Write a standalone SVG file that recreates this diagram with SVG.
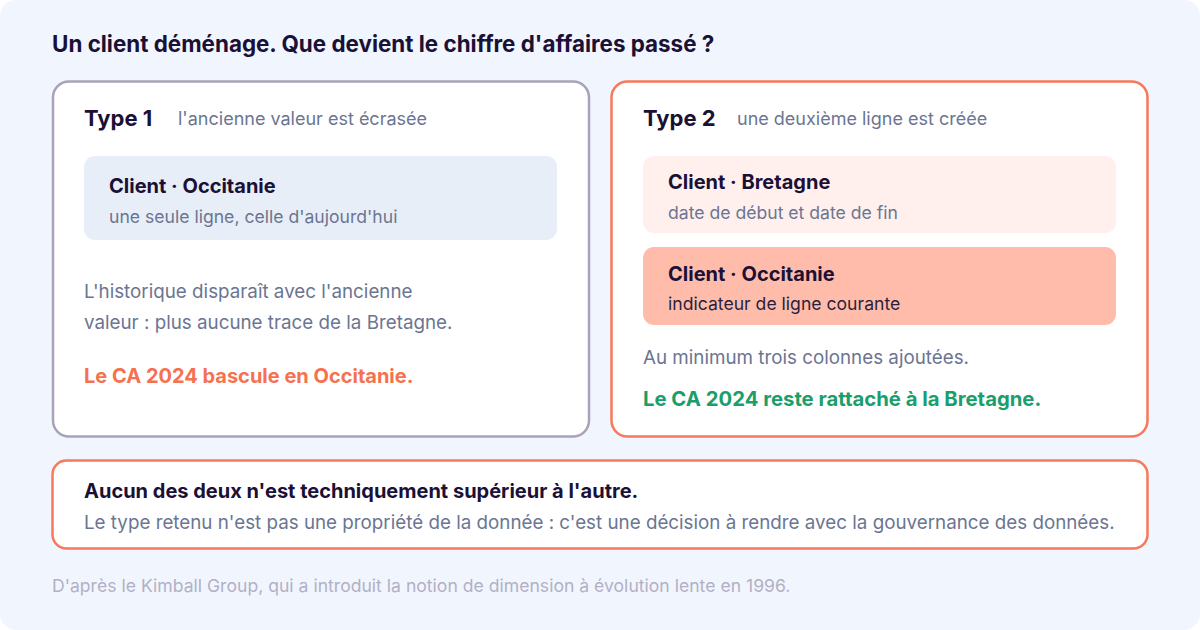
<svg xmlns="http://www.w3.org/2000/svg" width="1200" height="630" viewBox="0 0 1200 630">
<style>
text{font-family:Inter,"Noto Sans","Liberation Sans",sans-serif}
.h{font-weight:700;fill:#1b1035}
.sub{font-size:18px;fill:#6b7591}
.rsub{font-size:17.6px;fill:#6b7591}
.body{font-size:18.8px;fill:#6b7591}
.card{fill:#ffffff;stroke-width:2.5}
</style>
<rect x="0" y="0" width="1200" height="630" fill="#ffffff"/>
<rect x="0" y="0" width="1200" height="630" rx="16" fill="#f1f6fe"/>
<text x="52" y="52" class="h" font-size="22.4">Un client déménage. Que devient le chiffre d'affaires passé ?</text>
<g id="type1">
<rect class="card" x="53" y="81.5" width="536" height="355" rx="16" stroke="#aaa1ba"/>
<text x="84" y="126" class="h" font-size="22">Type 1</text>
<text x="178" y="125" class="sub">l'ancienne valeur est écrasée</text>
<g id="t1-row">
<rect x="84" y="156" width="473" height="84" rx="11" fill="#e7eef8"/>
<text x="109" y="193" class="h" font-size="20">Client · Occitanie</text>
<text x="109" y="223" class="rsub">une seule ligne, celle d'aujourd'hui</text>
</g>
<text x="84" y="298" class="body">L'historique disparaît avec l'ancienne</text>
<text x="84" y="329" class="body">valeur : plus aucune trace de la Bretagne.</text>
<text x="84" y="383" font-size="20" font-weight="700" fill="#f5714f">Le CA 2024 bascule en Occitanie.</text>
</g>
<g id="type2">
<rect class="card" x="611.5" y="81.5" width="536" height="355" rx="16" stroke="#f7785a"/>
<text x="643" y="126" class="h" font-size="22">Type 2</text>
<text x="737" y="125" class="sub">une deuxième ligne est créée</text>
<g id="t2-row1">
<rect x="643" y="156" width="473" height="77" rx="11" fill="#fff0ed"/>
<text x="668" y="189" class="h" font-size="20">Client · Bretagne</text>
<text x="668" y="219" class="rsub">date de début et date de fin</text>
</g>
<g id="t2-row2">
<rect x="643" y="247" width="473" height="78" rx="11" fill="#ffbcaa"/>
<text x="668" y="281" class="h" font-size="20">Client · Occitanie</text>
<text x="668" y="310" font-size="17.6" fill="#2a1f3f">indicateur de ligne courante</text>
</g>
<text x="643" y="364" class="body">Au minimum trois colonnes ajoutées.</text>
<text x="643" y="406" font-size="20.3" font-weight="700" fill="#1a9e6b">Le CA 2024 reste rattaché à la Bretagne.</text>
</g>
<g id="conclusion">
<rect class="card" x="52.5" y="460.5" width="1095" height="88" rx="14" stroke="#f7785a"/>
<text x="84" y="498" class="h" font-size="20">Aucun des deux n'est techniquement supérieur à l'autre.</text>
<text x="84" y="529" font-size="18.8" fill="#6b7591">Le type retenu n'est pas une propriété de la donnée : c'est une décision à rendre avec la gouvernance des données.</text>
</g>
<text x="52" y="592" font-size="17.6" fill="#b3b0c6">D'après le Kimball Group, qui a introduit la notion de dimension à évolution lente en 1996.</text>
<g id="connectors"></g>
</svg>
